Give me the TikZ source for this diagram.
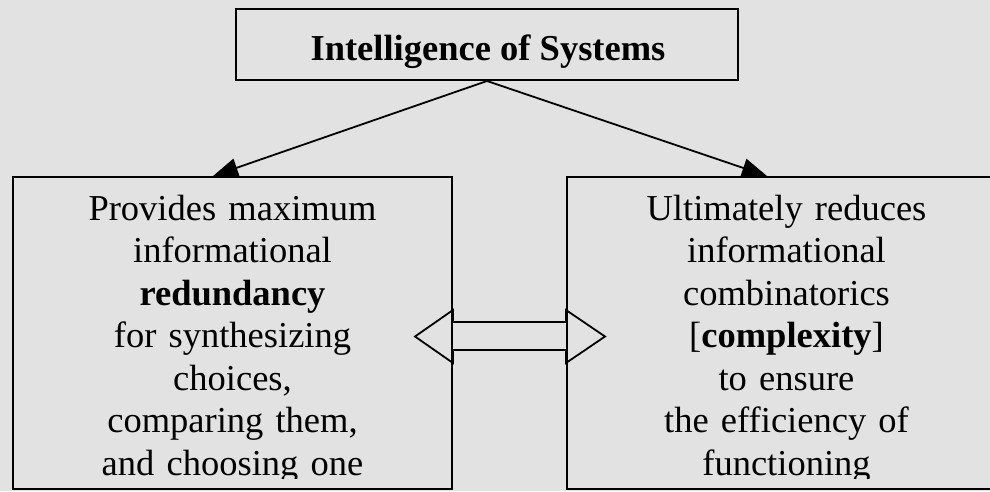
\documentclass[tikz,border=0pt]{standalone}
\usepackage{fontspec}
\setmainfont{Liberation Serif}
\usetikzlibrary{arrows.meta}
\definecolor{bgc}{RGB}{226,226,226}
\tikzset{
  boxline/.style={draw=black, line width=2pt, inner sep=0pt},
  conn/.style={draw=black, line width=1.8pt, -{Triangle[length=25pt,width=19pt]}},
  bodytext/.style={text width=430pt, align=center, inner sep=0pt, anchor=base,
    font=\fontsize{36.5}{42.5}\selectfont},
  titletext/.style={inner sep=0pt, anchor=base, font=\fontsize{36.5}{42.5}\selectfont\bfseries}
}
\begin{document}
\begin{tikzpicture}[x=1pt,y=-1pt]
\useasboundingbox (0,0) rectangle (990,491);
\clip (0,0) rectangle (990,491);
\fill[bgc] (0,0) rectangle (990,491);
% boxes
\node[boxline, minimum width=502pt, minimum height=71pt] (T) at (487,44.5) {};
\node[boxline, minimum width=439pt, minimum height=312pt] (L) at (232.5,333) {};
\node[boxline, minimum width=439pt, minimum height=312pt] (R) at (786.5,333) {};
% texts
\node[titletext] (Tt) at (488,60) {Intelligence of Systems};
\begin{scope}
\clip (0,0) rectangle (990,478);
\node[bodytext] (Lt) at (232.5,220) {Provides maximum\\informational\\\textbf{redundancy}\\for synthesizing\\choices,\\comparing them,\\and choosing one};
\node[bodytext] (Rt) at (786.5,220) {Ultimately reduces\\informational\\combinatorics\\{[}\textbf{complexity}{]}\\to ensure\\the efficiency of\\functioning};
\end{scope}
% connectors
\path[conn] (T.south) -- ([xshift=-19.5pt]L.north);
\path[conn] (T.south) -- ([xshift=-19.5pt]R.north);
% double arrow between boxes
\draw[line width=1.8pt, line join=miter]
  (415,336.5) -- (L.east |- 0,310) -- (L.east |- 0,322) -- (R.west |- 0,322)
  -- (R.west |- 0,310) -- (605,336.5) -- (R.west |- 0,363) -- (R.west |- 0,350)
  -- (L.east |- 0,350) -- (L.east |- 0,363) -- cycle;
\end{tikzpicture}
\end{document}
